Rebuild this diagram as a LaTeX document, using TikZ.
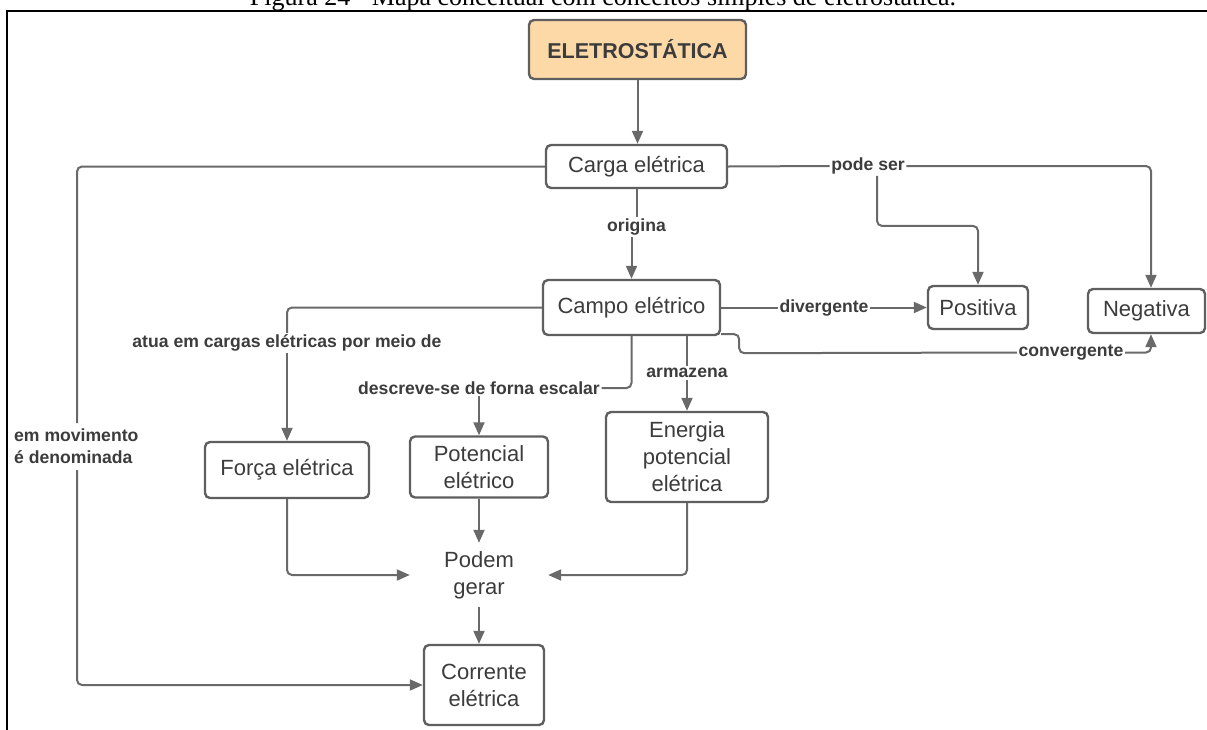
\documentclass[tikz,border=0pt]{standalone}
\usepackage{fontspec}
\setmainfont{Liberation Sans}
\newfontfamily\capfont{Liberation Serif}
\usetikzlibrary{arrows.meta}
\definecolor{linegray}{RGB}{105,105,105}
\definecolor{boxgray}{RGB}{95,95,95}
\definecolor{txtgray}{RGB}{60,60,60}
\definecolor{orangefill}{RGB}{253,217,168}
\begin{document}
\begin{tikzpicture}[x=1pt,y=-1pt,
  box/.style={draw=boxgray, line width=2.4pt, rounded corners=5pt, fill=white, text=txtgray,
    font=\fontsize{22}{27}\selectfont, align=center, inner sep=0pt},
  lbl/.style={fill=white, text=txtgray, font=\bfseries\fontsize{17.6}{22}\selectfont, inner sep=1.5pt},
  conn/.style={draw=linegray, line width=2pt, rounded corners=5pt},
  arr/.style={conn, -{Triangle[length=13pt,width=11pt]}},
]
\useasboundingbox (0,0) rectangle (1207,729);

% caption (cut at top, as in the reference) and frame
\node[font=\capfont\fontsize{26}{30}\selectfont, anchor=base, text=black, inner sep=0pt] (cap) at (603,5)
  {Figura 24 - Mapa conceitual com conceitos simples de eletrostática.};
\draw[black, line width=2pt] (7,735) -- (7,11) -- (1210,11);

% nodes
\node[box, fill=orangefill, font=\bfseries\fontsize{21.5}{26}\selectfont, minimum width=217pt, minimum height=59pt] (eletro) at (637.5,49.5) {ELETROSTÁTICA};
\node[box, minimum width=181pt, minimum height=43pt] (carga) at (636.5,166.5) {Carga elétrica};
\node[box, minimum width=177pt, minimum height=55pt] (campo) at (631.5,307.5) {Campo elétrico};
\node[box, minimum width=100pt, minimum height=43pt] (pos) at (978,307.5) {Positiva};
\node[box, minimum width=117pt, minimum height=44pt] (neg) at (1146.5,311) {Negativa};
\node[box, minimum width=164pt, minimum height=56pt] (forca) at (287,470) {Força elétrica};
\node[box, minimum width=138pt, minimum height=61pt] (pot) at (479,467) {Potencial\\elétrico};
\node[box, minimum width=162pt, minimum height=90pt] (ener) at (687,457) {Energia\\potencial\\elétrica};
\node[box, draw=none, fill=none, minimum width=136pt, minimum height=62pt] (podem) at (479,575) {Podem\\gerar};
\node[box, minimum width=120pt, minimum height=80pt] (corr) at (484,685) {Corrente\\elétrica};

% labels
\node[lbl] (origina) at (636.5,227) {origina};
\node[lbl] (podeser) at (868,166) {pode ser};
\node[lbl] (div) at (824,307.5) {divergente};
\node[lbl] (conv) at (1071,352.5) {convergente};
\node[lbl] (atua) at (287,343) {atua em cargas elétricas por meio de};
\node[lbl] (desc) at (479,388) {descreve-se de forna escalar};
\node[lbl] (arm) at (687,373) {armazena};
\node[lbl, anchor=west, align=left, inner sep=0pt] (emmov) at (14,446) {em movimento\\é denominada};
\coordinate (mvtop) at (77,423);
\coordinate (mvbot) at (77,470);

% connectors
\draw[arr] (eletro.south) -- (eletro.south |- carga.north);
\draw[conn] (carga.south) -- (origina.north);
\draw[arr] (origina.south -| campo.north) -- (campo.north);
\draw[conn] (carga.east) -- (podeser.west);
\draw[arr] (podeser.east) -| ([xshift=4.5pt]neg.north);
\draw[arr] ([xshift=9pt]podeser.south) -- ++(0,50) -| (pos.north);
\draw[conn] (campo.east) -- (div.west);
\draw[arr] (div.east) -- (pos.west);
\draw[conn] ([yshift=2pt]campo.south east) -- ++(18,0) -- ++(0,19) -- (conv.west);
\draw[arr] (conv.east) -| ([xshift=4.5pt]neg.south);
\draw[conn] (campo.west) -| (atua.north);
\draw[arr] (atua.south) -- (forca.north);
\draw[conn] (campo.south) |- (desc.east);
\draw[arr] (desc.south) -- (pot.north);
\draw[conn] (campo.south -| arm.north) -- (arm.north);
\draw[arr] (arm.south) -- (ener.north);
\draw[arr] (forca.south) |- (podem.west);
\draw[arr] (pot.south) -- (pot.south |- podem.north);
\draw[arr] (ener.south) |- (podem.east);
\draw[arr] (podem.south) -- (podem.south |- corr.north);
\draw[conn] (carga.west) -| (mvtop);
\draw[arr] (mvbot) |- (corr.west);
\end{tikzpicture}
\end{document}
